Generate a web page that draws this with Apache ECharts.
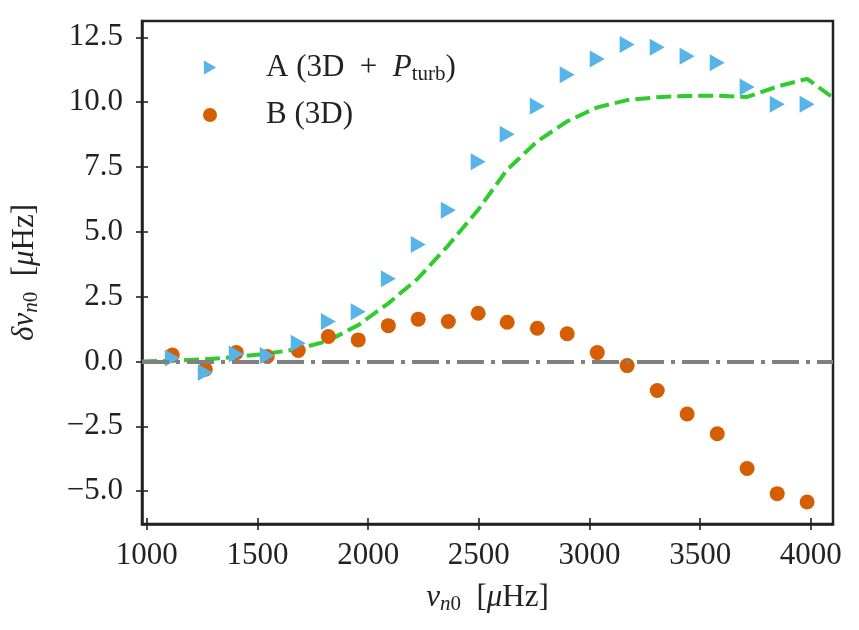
<!DOCTYPE html>
<html>
<head>
<meta charset="utf-8">
<script src="https://cdn.jsdelivr.net/npm/echarts@6/dist/echarts.min.js"></script>
<style>
  html, body { margin: 0; padding: 0; background: #fff; }
  #chart { width: 859px; height: 630px; }
</style>
</head>
<body>
<div id="chart"></div>
<script>
// mode frequencies (muHz)
const freqs = [1115, 1264, 1404, 1544, 1684, 1820, 1955, 2091, 2226, 2362, 2497,
  2628, 2764, 2899, 3035, 3170, 3306, 3441, 3577, 3712, 3848, 3983]
// A (3D + P_turb)
const shiftA = [0.13, -0.43, 0.29, 0.23, 0.70, 1.54, 1.92, 3.19, 4.51, 5.83, 7.70,
  8.76, 9.84, 11.06, 11.66, 12.22, 12.12, 11.77, 11.52, 10.58, 9.92, 9.92]
// B (3D)
const shiftB = [0.25, -0.30, 0.34, 0.19, 0.42, 0.96, 0.83, 1.38, 1.63, 1.54, 1.86,
  1.51, 1.28, 1.07, 0.34, -0.16, -1.12, -2.03, -2.79, -4.13, -5.10, -5.42]
// model curve (green dashed)
const modelFreqs = [978, 1115, 1264, 1404, 1544, 1684, 1820, 1955, 2091, 2226, 2362, 2497,
  2628, 2764, 2899, 3035, 3170, 3306, 3441, 3577, 3712, 3848, 3983, 4120]
const modelShift = [0.0, 0.03, 0.08, 0.18, 0.30, 0.48, 0.80, 1.40, 2.24, 3.21, 4.48, 5.85,
  7.40, 8.49, 9.26, 9.80, 10.08, 10.19, 10.24, 10.25, 10.20, 10.60, 10.90, 10.05]
const xTicks = [1000, 1500, 2000, 2500, 3000, 3500, 4000]
const yTicks = [-5, -2.5, 0, 2.5, 5, 7.5, 10, 12.5]

const FONT = 'Liberation Serif'
const INK = '#222'
const FS = 31

const zip = (xs, ys) => xs.map((x, i) => [x, ys[i]])
const minus = (s) => String(s).replace('-', '\u2212')

const chart = echarts.init(document.getElementById('chart'))

// inside=true gives the inner half of the ticks (matplotlib "inout" look)
const axisX = (inside, showLabel) => ({
  type: 'value',
  min: 978,
  max: 4100,
  position: 'bottom',
  axisLine: { show: !inside, onZero: false, lineStyle: { color: INK, width: 2.5 } },
  axisTick: { show: true, inside: inside, length: 6, customValues: xTicks, lineStyle: { color: INK, width: 1.6 } },
  axisLabel: {
    show: showLabel, customValues: xTicks, margin: 16,
    fontFamily: FONT, fontSize: FS, color: INK,
    formatter: (v) => String(v),
  },
  splitLine: { show: false },
})

const axisY = (inside, showLabel) => ({
  type: 'value',
  min: -6.27,
  max: 13.13,
  position: 'left',
  axisLine: { show: !inside, onZero: false, lineStyle: { color: INK, width: 2.5 } },
  axisTick: { show: true, inside: inside, length: 6, customValues: yTicks, lineStyle: { color: INK, width: 1.6 } },
  axisLabel: {
    show: showLabel, customValues: yTicks, margin: 19,
    fontFamily: FONT, fontSize: FS, color: INK,
    formatter: (v) => minus(v.toFixed(1)),
  },
  splitLine: { show: false },
})

const nameRich = {
  t: { fontFamily: FONT, fontSize: FS, color: INK },
  i: { fontFamily: FONT, fontSize: FS, fontStyle: 'italic', color: INK },
  s: { fontFamily: FONT, fontSize: 21, color: INK, padding: [13, 0, 0, 0] },
  si: { fontFamily: FONT, fontSize: 21, fontStyle: 'italic', color: INK, padding: [13, 0, 0, 0] },
}

const xMain = axisX(false, true)
xMain.name = '{i|\u03bd}{si|n}{s|0}{t|  [}{i|\u03bc}{t|Hz]}'
xMain.nameLocation = 'middle'
xMain.nameGap = 57
xMain.nameTextStyle = { rich: nameRich }

const yMain = axisY(false, true)
yMain.name = '{i|\u03b4\u03bd}{si|n}{s|0}{t|  [}{i|\u03bc}{t|Hz]}'
yMain.nameLocation = 'middle'
yMain.nameGap = 100
yMain.nameTextStyle = { rich: nameRich }

let options = {
  animation: false,
  backgroundColor: '#fff',
  grid: {
    left: 142, right: 26, top: 21, bottom: 106,
    show: true, borderColor: INK, borderWidth: 2.5, backgroundColor: 'transparent',
  },
  legend: {
    left: 198,
    top: 47,
    orient: 'vertical',
    itemWidth: 14,
    itemHeight: 14,
    itemGap: 15,
    data: [
      { name: 'A', icon: 'path://M0,0L10,5.8L0,11.6Z' },
      { name: 'B', icon: 'circle' },
    ],
    formatter: (name) => name === 'A'
      ? '{t|A (3D\u2002+\u2002}{i|P}{s|turb}{t|)}'
      : '{t|B (3D)}',
    textStyle: {
      padding: [0, 0, 0, 44],
      rich: {
        t: { fontFamily: FONT, fontSize: FS, color: INK, lineHeight: 36 },
        i: { fontFamily: FONT, fontSize: FS, fontStyle: 'italic', color: INK, lineHeight: 36 },
        s: { fontFamily: FONT, fontSize: 21, color: INK, padding: [13, 0, 0, 0] },
      },
    },
  },
  xAxis: [xMain, axisX(true, false)],
  yAxis: [yMain, axisY(true, false)],
  series: [
    {
      name: 'zero',
      type: 'line',
      data: [],
      z: 1,
      markLine: {
        silent: true,
        symbol: 'none',
        label: { show: false },
        lineStyle: { color: '#808080', width: 3.8, type: [27, 7, 4, 7] },
        data: [{ yAxis: 0 }],
      },
    },
    {
      name: 'model',
      type: 'line',
      data: zip(modelFreqs, modelShift),
      showSymbol: false,
      clip: true,
      z: 2,
      lineStyle: { color: '#2ecc2e', width: 4, type: [15, 6] },
    },
    {
      name: 'B',
      type: 'scatter',
      data: zip(freqs, shiftB),
      symbol: 'circle',
      symbolSize: 15,
      z: 3,
      itemStyle: { color: '#D55E00', opacity: 1 },
    },
    {
      name: 'A',
      type: 'scatter',
      data: zip(freqs, shiftA),
      symbol: 'path://M0,0L10,5.8L0,11.6Z',
      symbolSize: [15, 17],
      z: 4,
      itemStyle: { color: '#56B4E9', opacity: 1 },
    },
  ],
}
options && chart.setOption(options)
</script>
</body>
</html>
